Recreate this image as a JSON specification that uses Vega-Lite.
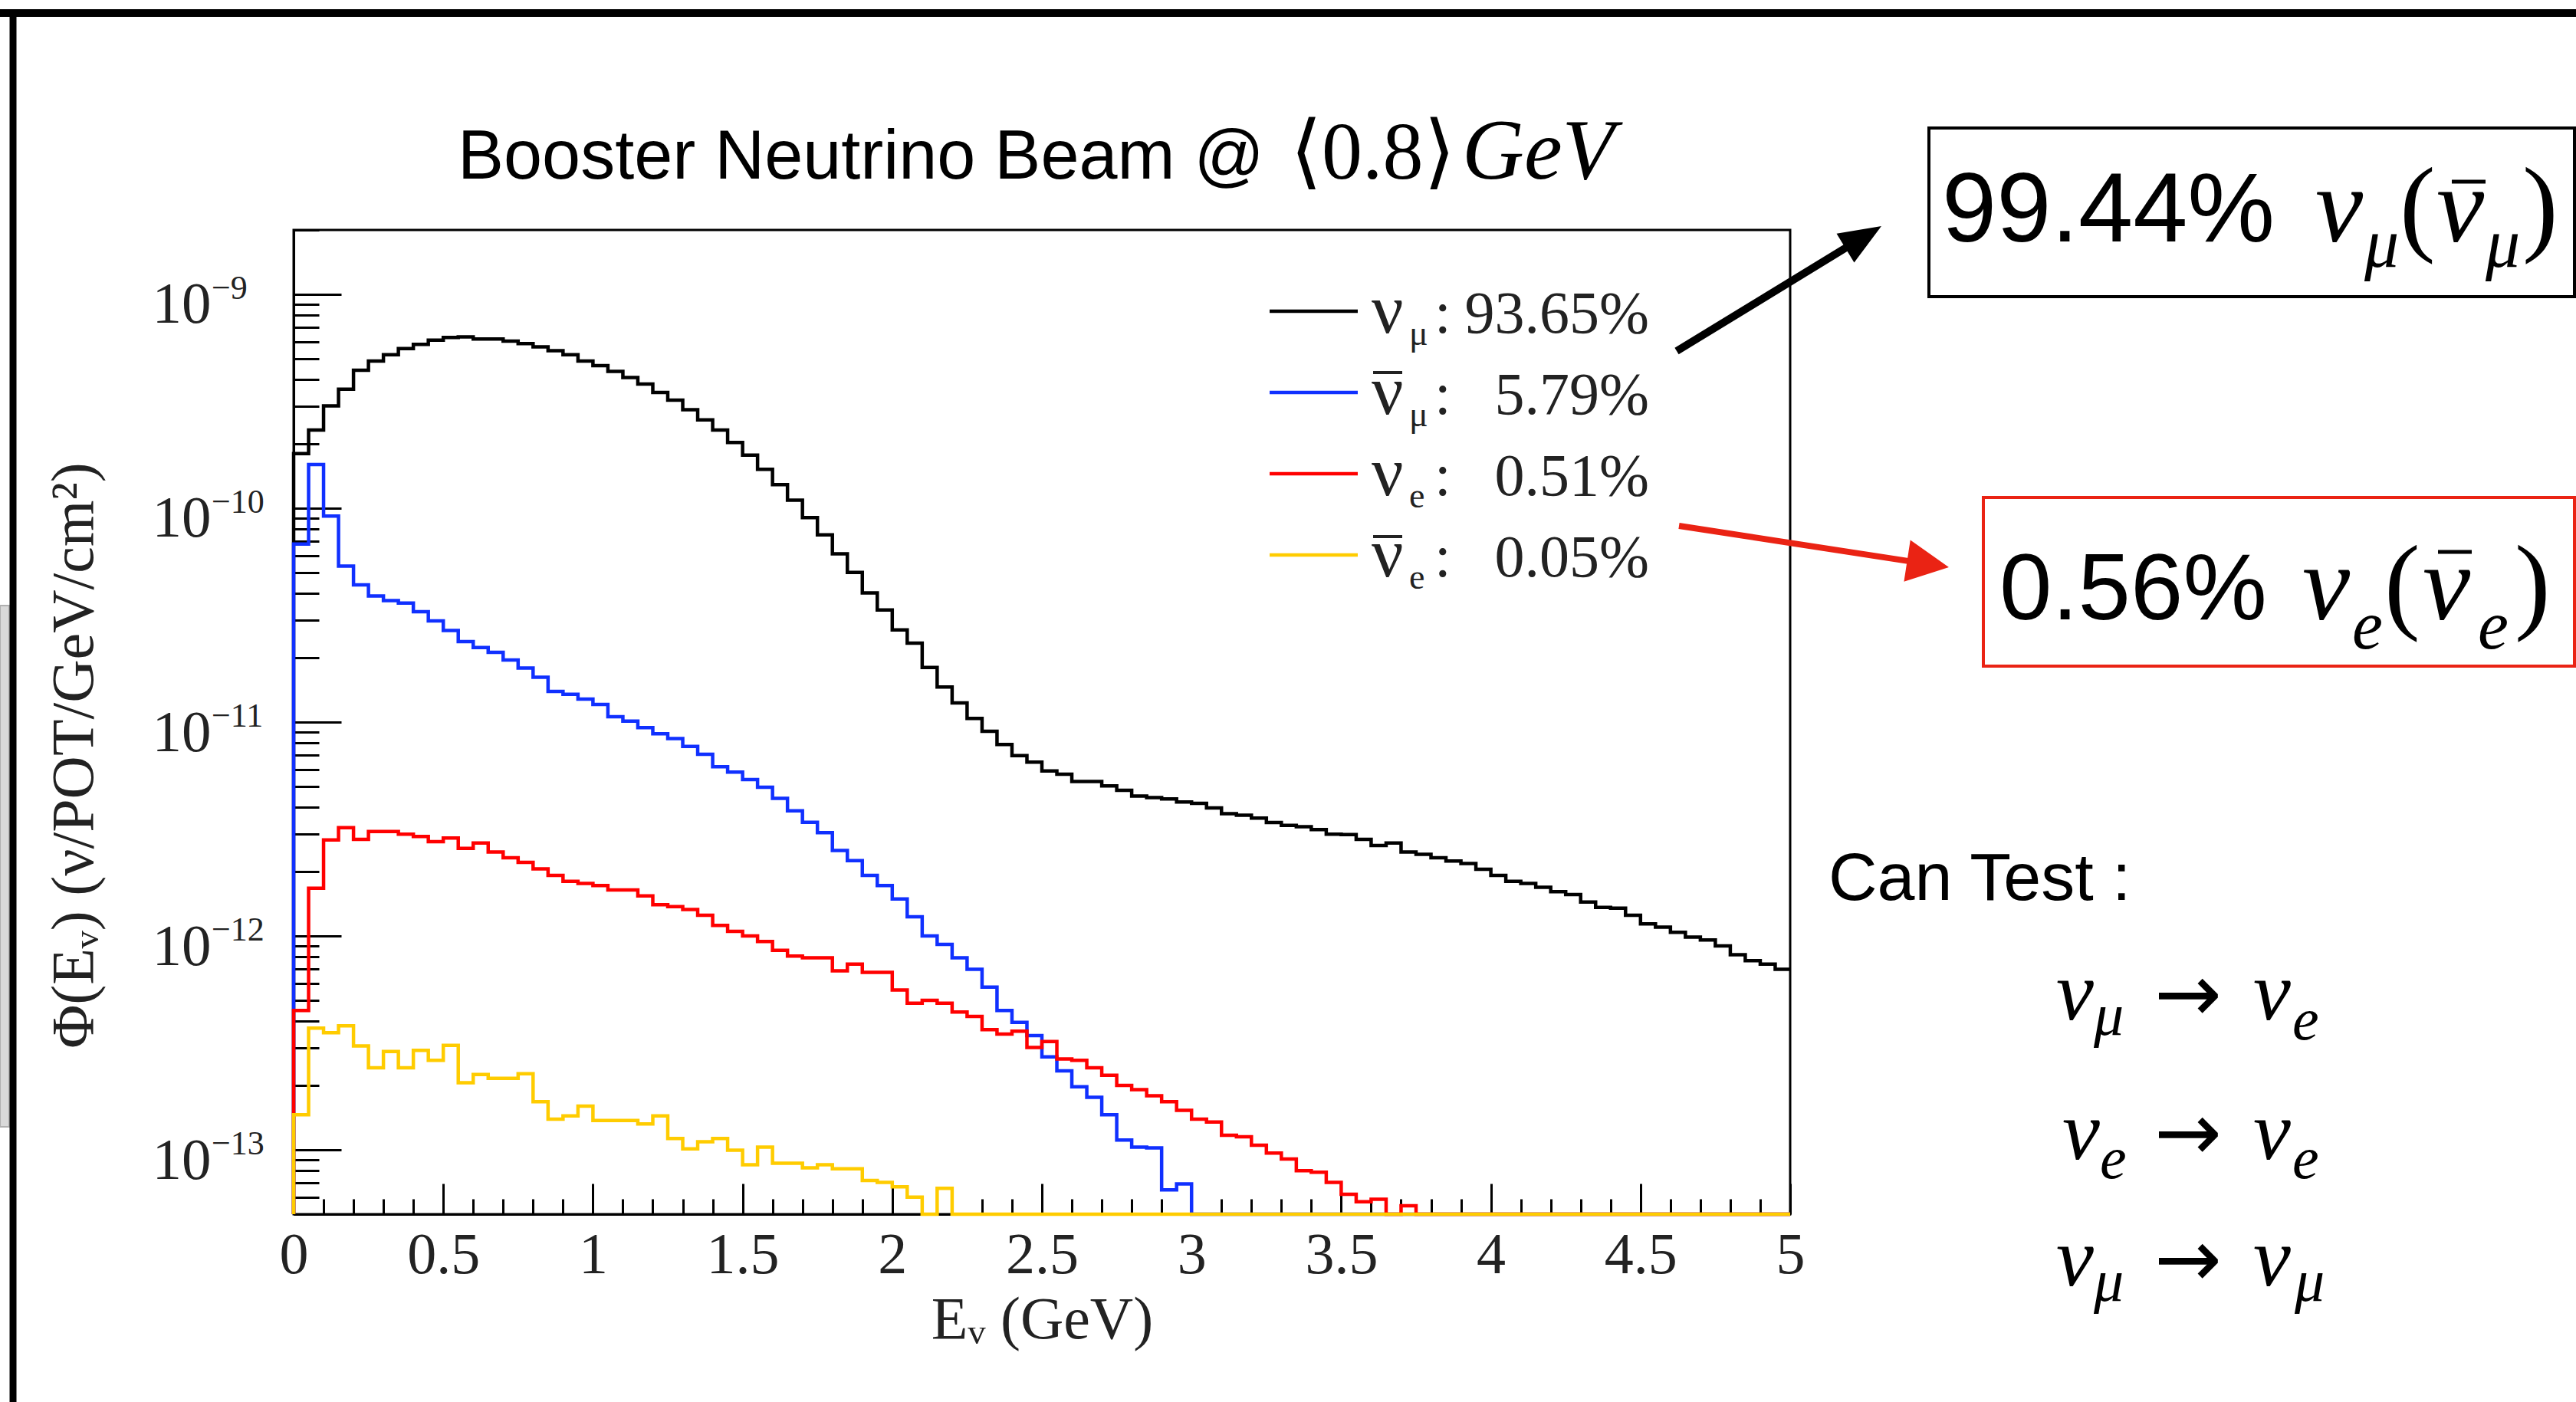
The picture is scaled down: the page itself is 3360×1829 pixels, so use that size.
{
"$schema": "https://vega.github.io/schema/vega-lite/v6.json",
"width": 1952, "height": 1284,
"autosize": {"type": "none"},
"padding": {"left": 383, "top": 300, "right": 1025, "bottom": 245},
"background": "white",
"config": {"view": {"stroke": "#000", "strokeWidth": 3}, "text": {"font": "Liberation Serif", "fill": "#000", "align": "left", "baseline": "alphabetic"}},
"datasets": {
"one": [{"k": 1}],
"bins": [
{"b":-1,"E":0,"numu":5e-14,"anumu":5e-14,"nue":5e-14,"anue":5e-14},
{"b":0,"E":0,"numu":1.8e-10,"anumu":6.8e-11,"nue":4.48e-13,"anue":1.46e-13},
{"b":1,"E":0.05,"numu":2.32e-10,"anumu":1.6e-10,"nue":1.67e-12,"anue":3.71e-13},
{"b":2,"E":0.1,"numu":3.01e-10,"anumu":9.18e-11,"nue":2.81e-12,"anue":3.53e-13},
{"b":3,"E":0.15,"numu":3.6e-10,"anumu":5.36e-11,"nue":3.21e-12,"anue":3.8e-13},
{"b":4,"E":0.2,"numu":4.42e-10,"anumu":4.38e-11,"nue":2.83e-12,"anue":3.06e-13},
{"b":5,"E":0.25,"numu":4.88e-10,"anumu":3.89e-11,"nue":3.08e-12,"anue":2.42e-13},
{"b":6,"E":0.3,"numu":5.22e-10,"anumu":3.7e-11,"nue":3.08e-12,"anue":2.88e-13},
{"b":7,"E":0.35,"numu":5.58e-10,"anumu":3.6e-11,"nue":2.99e-12,"anue":2.42e-13},
{"b":8,"E":0.4,"numu":5.83e-10,"anumu":3.28e-11,"nue":2.92e-12,"anue":2.92e-13},
{"b":9,"E":0.45,"numu":6.11e-10,"anumu":2.97e-11,"nue":2.76e-12,"anue":2.62e-13},
{"b":10,"E":0.5,"numu":6.28e-10,"anumu":2.68e-11,"nue":2.87e-12,"anue":3.08e-13},
{"b":11,"E":0.55,"numu":6.32e-10,"anumu":2.38e-11,"nue":2.57e-12,"anue":2.06e-13},
{"b":12,"E":0.6,"numu":6.18e-10,"anumu":2.23e-11,"nue":2.72e-12,"anue":2.25e-13},
{"b":13,"E":0.65,"numu":6.18e-10,"anumu":2.12e-11,"nue":2.47e-12,"anue":2.16e-13},
{"b":14,"E":0.7,"numu":6.04e-10,"anumu":1.95e-11,"nue":2.32e-12,"anue":2.16e-13},
{"b":15,"E":0.75,"numu":5.88e-10,"anumu":1.79e-11,"nue":2.21e-12,"anue":2.27e-13},
{"b":16,"E":0.8,"numu":5.68e-10,"anumu":1.62e-11,"nue":2.06e-12,"anue":1.68e-13},
{"b":17,"E":0.85,"numu":5.45e-10,"anumu":1.39e-11,"nue":1.92e-12,"anue":1.39e-13},
{"b":18,"E":0.9,"numu":5.22e-10,"anumu":1.35e-11,"nue":1.8e-12,"anue":1.44e-13},
{"b":19,"E":0.95,"numu":4.88e-10,"anumu":1.28e-11,"nue":1.76e-12,"anue":1.6e-13},
{"b":20,"E":1.0,"numu":4.64e-10,"anumu":1.21e-11,"nue":1.72e-12,"anue":1.37e-13},
{"b":21,"E":1.05,"numu":4.36e-10,"anumu":1.06e-11,"nue":1.64e-12,"anue":1.37e-13},
{"b":22,"E":1.1,"numu":4.08e-10,"anumu":1.01e-11,"nue":1.64e-12,"anue":1.37e-13},
{"b":23,"E":1.15,"numu":3.81e-10,"anumu":9.42e-12,"nue":1.54e-12,"anue":1.32e-13},
{"b":24,"E":1.2,"numu":3.48e-10,"anumu":8.81e-12,"nue":1.4e-12,"anue":1.44e-13},
{"b":25,"E":1.25,"numu":3.2e-10,"anumu":8.38e-12,"nue":1.37e-12,"anue":1.13e-13},
{"b":26,"E":1.3,"numu":2.89e-10,"anumu":7.69e-12,"nue":1.33e-12,"anue":1.01e-13},
{"b":27,"E":1.35,"numu":2.59e-10,"anumu":7.07e-12,"nue":1.25e-12,"anue":1.09e-13},
{"b":28,"E":1.4,"numu":2.32e-10,"anumu":6.18e-12,"nue":1.12e-12,"anue":1.13e-13},
{"b":29,"E":1.45,"numu":2.03e-10,"anumu":5.84e-12,"nue":1.05e-12,"anue":9.97e-14},
{"b":30,"E":1.5,"numu":1.77e-10,"anumu":5.38e-12,"nue":1.0e-12,"anue":8.51e-14},
{"b":31,"E":1.55,"numu":1.52e-10,"anumu":4.96e-12,"nue":9.42e-13,"anue":1.03e-13},
{"b":32,"E":1.6,"numu":1.29e-10,"anumu":4.4e-12,"nue":8.57e-13,"anue":8.65e-14},
{"b":33,"E":1.65,"numu":1.09e-10,"anumu":3.85e-12,"nue":8.05e-13,"anue":8.65e-14},
{"b":34,"E":1.7,"numu":9.03e-11,"anumu":3.4e-12,"nue":7.91e-13,"anue":8.24e-14},
{"b":35,"E":1.75,"numu":7.51e-11,"anumu":3.04e-12,"nue":7.91e-13,"anue":8.51e-14},
{"b":36,"E":1.8,"numu":6.12e-11,"anumu":2.51e-12,"nue":6.87e-13,"anue":8.16e-14},
{"b":37,"E":1.85,"numu":5.01e-11,"anumu":2.25e-12,"nue":7.38e-13,"anue":8.16e-14},
{"b":38,"E":1.9,"numu":4.02e-11,"anumu":1.92e-12,"nue":6.76e-13,"anue":7.19e-14},
{"b":39,"E":1.95,"numu":3.34e-11,"anumu":1.72e-12,"nue":6.76e-13,"anue":7.04e-14},
{"b":40,"E":2.0,"numu":2.7e-11,"anumu":1.49e-12,"nue":5.59e-13,"anue":6.71e-14},
{"b":41,"E":2.05,"numu":2.34e-11,"anumu":1.23e-12,"nue":4.85e-13,"anue":6.01e-14},
{"b":42,"E":2.1,"numu":1.8e-11,"anumu":1.0e-12,"nue":5.0e-13,"anue":5e-14},
{"b":43,"E":2.15,"numu":1.46e-11,"anumu":9.13e-13,"nue":4.85e-13,"anue":6.6e-14},
{"b":44,"E":2.2,"numu":1.23e-11,"anumu":7.91e-13,"nue":4.41e-13,"anue":5e-14},
{"b":45,"E":2.25,"numu":1.04e-11,"anumu":6.98e-13,"nue":4.2e-13,"anue":5e-14},
{"b":46,"E":2.3,"numu":9.06e-12,"anumu":5.77e-13,"nue":3.65e-13,"anue":5e-14},
{"b":47,"E":2.35,"numu":7.86e-12,"anumu":4.48e-13,"nue":3.48e-13,"anue":5e-14},
{"b":48,"E":2.4,"numu":6.97e-12,"anumu":3.94e-13,"nue":3.59e-13,"anue":5e-14},
{"b":49,"E":2.45,"numu":6.5e-12,"anumu":3.42e-13,"nue":3.01e-13,"anue":5e-14},
{"b":50,"E":2.5,"numu":5.91e-12,"anumu":2.72e-13,"nue":3.21e-13,"anue":5e-14},
{"b":51,"E":2.55,"numu":5.71e-12,"anumu":2.34e-13,"nue":2.66e-13,"anue":5e-14},
{"b":52,"E":2.6,"numu":5.28e-12,"anumu":1.97e-13,"nue":2.62e-13,"anue":5e-14},
{"b":53,"E":2.65,"numu":5.28e-12,"anumu":1.76e-13,"nue":2.42e-13,"anue":5e-14},
{"b":54,"E":2.7,"numu":5.03e-12,"anumu":1.46e-13,"nue":2.23e-13,"anue":5e-14},
{"b":55,"E":2.75,"numu":4.8e-12,"anumu":1.11e-13,"nue":2.0e-13,"anue":5e-14},
{"b":56,"E":2.8,"numu":4.51e-12,"anumu":1.03e-13,"nue":1.91e-13,"anue":5e-14},
{"b":57,"E":2.85,"numu":4.44e-12,"anumu":1.02e-13,"nue":1.79e-13,"anue":5e-14},
{"b":58,"E":2.9,"numu":4.37e-12,"anumu":6.5e-14,"nue":1.68e-13,"anue":5e-14},
{"b":59,"E":2.95,"numu":4.23e-12,"anumu":6.92e-14,"nue":1.53e-13,"anue":5e-14},
{"b":60,"E":3.0,"numu":4.17e-12,"anumu":5e-14,"nue":1.39e-13,"anue":5e-14},
{"b":61,"E":3.05,"numu":3.97e-12,"anumu":5e-14,"nue":1.35e-13,"anue":5e-14},
{"b":62,"E":3.1,"numu":3.73e-12,"anumu":5e-14,"nue":1.17e-13,"anue":5e-14},
{"b":63,"E":3.15,"numu":3.67e-12,"anumu":5e-14,"nue":1.15e-13,"anue":5e-14},
{"b":64,"E":3.2,"numu":3.56e-12,"anumu":5e-14,"nue":1.05e-13,"anue":5e-14},
{"b":65,"E":3.25,"numu":3.39e-12,"anumu":5e-14,"nue":9.66e-14,"anue":5e-14},
{"b":66,"E":3.3,"numu":3.29e-12,"anumu":5e-14,"nue":9.06e-14,"anue":5e-14},
{"b":67,"E":3.35,"numu":3.24e-12,"anumu":5e-14,"nue":7.98e-14,"anue":5e-14},
{"b":68,"E":3.4,"numu":3.14e-12,"anumu":5e-14,"nue":7.86e-14,"anue":5e-14},
{"b":69,"E":3.45,"numu":2.99e-12,"anumu":5e-14,"nue":7.04e-14,"anue":5e-14},
{"b":70,"E":3.5,"numu":2.98e-12,"anumu":5e-14,"nue":6.2e-14,"anue":5e-14},
{"b":71,"E":3.55,"numu":2.83e-12,"anumu":5e-14,"nue":5.72e-14,"anue":5e-14},
{"b":72,"E":3.6,"numu":2.65e-12,"anumu":5e-14,"nue":5.87e-14,"anue":5e-14},
{"b":73,"E":3.65,"numu":2.72e-12,"anumu":5e-14,"nue":5e-14,"anue":5e-14},
{"b":74,"E":3.7,"numu":2.47e-12,"anumu":5e-14,"nue":5.47e-14,"anue":5e-14},
{"b":75,"E":3.75,"numu":2.41e-12,"anumu":5e-14,"nue":5e-14,"anue":5e-14},
{"b":76,"E":3.8,"numu":2.32e-12,"anumu":5e-14,"nue":5e-14,"anue":5e-14},
{"b":77,"E":3.85,"numu":2.24e-12,"anumu":5e-14,"nue":5e-14,"anue":5e-14},
{"b":78,"E":3.9,"numu":2.18e-12,"anumu":5e-14,"nue":5e-14,"anue":5e-14},
{"b":79,"E":3.95,"numu":2.05e-12,"anumu":5e-14,"nue":5e-14,"anue":5e-14},
{"b":80,"E":4.0,"numu":1.92e-12,"anumu":5e-14,"nue":5e-14,"anue":5e-14},
{"b":81,"E":4.05,"numu":1.8e-12,"anumu":5e-14,"nue":5e-14,"anue":5e-14},
{"b":82,"E":4.1,"numu":1.76e-12,"anumu":5e-14,"nue":5e-14,"anue":5e-14},
{"b":83,"E":4.15,"numu":1.69e-12,"anumu":5e-14,"nue":5e-14,"anue":5e-14},
{"b":84,"E":4.2,"numu":1.61e-12,"anumu":5e-14,"nue":5e-14,"anue":5e-14},
{"b":85,"E":4.25,"numu":1.56e-12,"anumu":5e-14,"nue":5e-14,"anue":5e-14},
{"b":86,"E":4.3,"numu":1.44e-12,"anumu":5e-14,"nue":5e-14,"anue":5e-14},
{"b":87,"E":4.35,"numu":1.36e-12,"anumu":5e-14,"nue":5e-14,"anue":5e-14},
{"b":88,"E":4.4,"numu":1.35e-12,"anumu":5e-14,"nue":5e-14,"anue":5e-14},
{"b":89,"E":4.45,"numu":1.25e-12,"anumu":5e-14,"nue":5e-14,"anue":5e-14},
{"b":90,"E":4.5,"numu":1.14e-12,"anumu":5e-14,"nue":5e-14,"anue":5e-14},
{"b":91,"E":4.55,"numu":1.1e-12,"anumu":5e-14,"nue":5e-14,"anue":5e-14},
{"b":92,"E":4.6,"numu":1.04e-12,"anumu":5e-14,"nue":5e-14,"anue":5e-14},
{"b":93,"E":4.65,"numu":9.88e-13,"anumu":5e-14,"nue":5e-14,"anue":5e-14},
{"b":94,"E":4.7,"numu":9.57e-13,"anumu":5e-14,"nue":5e-14,"anue":5e-14},
{"b":95,"E":4.75,"numu":8.99e-13,"anumu":5e-14,"nue":5e-14,"anue":5e-14},
{"b":96,"E":4.8,"numu":8.17e-13,"anumu":5e-14,"nue":5e-14,"anue":5e-14},
{"b":97,"E":4.85,"numu":7.67e-13,"anumu":5e-14,"nue":5e-14,"anue":5e-14},
{"b":98,"E":4.9,"numu":7.38e-13,"anumu":5e-14,"nue":5e-14,"anue":5e-14},
{"b":99,"E":4.95,"numu":6.98e-13,"anumu":5e-14,"nue":5e-14,"anue":5e-14},
{"b":100,"E":5.0,"numu":6.98e-13,"anumu":5e-14,"nue":5e-14,"anue":5e-14}
]},
"layer": [
{"data": {"name": "one"}, "mark": {"type": "rect", "fill": "#d9d9d9", "stroke": "#b0b0b0", "strokeWidth": 2},
 "encoding": {"x": {"datum": -0.981, "type": "quantitative"}, "x2": {"datum": -0.9503}, "y": {"datum": 3.505e-11, "type": "quantitative"}, "y2": {"datum": 1.2805e-13}}},
{"data": {"name": "bins"},
 "transform": [{"fold": ["numu", "anumu", "nue", "anue"], "as": ["s", "flux"]}],
 "mark": {"type": "line", "interpolate": "step-after", "strokeWidth": 4.5},
 "encoding": {
  "x": {"field": "E", "type": "quantitative", "scale": {"domain": [0, 5], "nice": false, "zero": false},
   "axis": {"title": "Eᵥ (GeV)", "titleFont": "Liberation Serif", "titleFontSize": 78, "titleFontWeight": "normal", "titleColor": "#222", "titlePadding": -12,
    "tickCount": 200,
    "values": [0,0.1,0.2,0.3,0.4,0.5,0.6,0.7,0.8,0.9,1,1.1,1.2,1.3,1.4,1.5,1.6,1.7,1.8,1.9,2,2.1,2.2,2.3,2.4,2.5,2.6,2.7,2.8,2.9,3,3.1,3.2,3.3,3.4,3.5,3.6,3.7,3.8,3.9,4,4.1,4.2,4.3,4.4,4.5,4.6,4.7,4.8,4.9,5],
    "labelExpr": "abs(datum.value*2 - round(datum.value*2)) < 0.001 ? (abs(datum.value - round(datum.value)) < 0.001 ? format(datum.value, 'd') : format(datum.value, '.1f')) : ''",
    "labelFont": "Liberation Serif", "labelFontSize": 76, "labelColor": "#222", "labelPadding": 56, "labelFlush": false, "labelOverlap": false, "labelBound": false,
    "tickSize": {"condition": {"test": "abs(datum.value*2 - round(datum.value*2)) < 0.001", "value": -40}, "value": -20},
    "tickWidth": 3, "tickColor": "#000", "domainColor": "#000", "domainWidth": 3, "grid": false}},
  "y": {"field": "flux", "type": "quantitative", "scale": {"type": "log", "domain": [5e-14, 2e-9], "nice": false},
   "axis": {"title": "Φ(Eᵥ) (ν/POT/GeV/cm²)", "titleFont": "Liberation Serif", "titleFontSize": 78, "titleFontWeight": "normal", "titleColor": "#222", "titlePadding": 62, "titleY": 685,
    "tickCount": 200,
    "values": [5e-14,6e-14,7e-14,8e-14,9e-14,1e-13,2e-13,3e-13,4e-13,5e-13,6e-13,7e-13,8e-13,9e-13,1e-12,2e-12,3e-12,4e-12,5e-12,6e-12,7e-12,8e-12,9e-12,1e-11,2e-11,3e-11,4e-11,5e-11,6e-11,7e-11,8e-11,9e-11,1e-10,2e-10,3e-10,4e-10,5e-10,6e-10,7e-10,8e-10,9e-10,1e-9,2e-9],
    "labelExpr": "abs(log(datum.value)/LN10 - round(log(datum.value)/LN10)) < 0.001 ? '10' : ''",
    "labelFont": "Liberation Serif", "labelFontSize": 77, "labelColor": "#222", "labelPadding": 170, "labelAlign": "right", "labelBaseline": "alphabetic", "labelFlush": false, "labelOverlap": false, "labelBound": false, "labelOffset": 37,
    "tickSize": {"condition": {"test": "abs(log(datum.value)/LN10 - round(log(datum.value)/LN10)) < 0.001", "value": -62}, "value": -33},
    "tickWidth": 3, "tickColor": "#000", "domainColor": "#000", "domainWidth": 3, "grid": false}},
  "color": {"field": "s", "type": "nominal", "scale": {"domain": ["numu", "anumu", "nue", "anue"], "range": ["#000000", "#1030ff", "#ff0000", "#ffcc00"]}, "legend": null},
  "order": {"field": "b", "type": "quantitative"}
 }},
{"data": {"name": "one"}, "mark": {"type": "text", "text": "−9", "fontSize": 44, "fill": "#222"}, "encoding": {"x": {"datum": -0.2741, "type": "quantitative"}, "y": {"datum": 9.517e-10, "type": "quantitative"}}},
{"data": {"name": "one"}, "mark": {"type": "text", "text": "−10", "fontSize": 44, "fill": "#222"}, "encoding": {"x": {"datum": -0.2741, "type": "quantitative"}, "y": {"datum": 9.517e-11, "type": "quantitative"}}},
{"data": {"name": "one"}, "mark": {"type": "text", "text": "−11", "fontSize": 44, "fill": "#222"}, "encoding": {"x": {"datum": -0.2741, "type": "quantitative"}, "y": {"datum": 9.517e-12, "type": "quantitative"}}},
{"data": {"name": "one"}, "mark": {"type": "text", "text": "−12", "fontSize": 44, "fill": "#222"}, "encoding": {"x": {"datum": -0.2741, "type": "quantitative"}, "y": {"datum": 9.517e-13, "type": "quantitative"}}},
{"data": {"name": "one"}, "mark": {"type": "text", "text": "−13", "fontSize": 44, "fill": "#222"}, "encoding": {"x": {"datum": -0.2741, "type": "quantitative"}, "y": {"datum": 9.517e-14, "type": "quantitative"}}},
{"data": {"name": "one"}, "mark": {"type": "rule", "stroke": "#000000", "strokeWidth": 4.5}, "encoding": {"x": {"datum": 3.2608, "type": "quantitative"}, "x2": {"datum": 3.5553}, "y": {"datum": 8.34e-10, "type": "quantitative"}}},
{"data": {"name": "one"}, "mark": {"type": "rule", "stroke": "#1030ff", "strokeWidth": 4.5}, "encoding": {"x": {"datum": 3.2608, "type": "quantitative"}, "x2": {"datum": 3.5553}, "y": {"datum": 3.477e-10, "type": "quantitative"}}},
{"data": {"name": "one"}, "mark": {"type": "rule", "stroke": "#ff0000", "strokeWidth": 4.5}, "encoding": {"x": {"datum": 3.2608, "type": "quantitative"}, "x2": {"datum": 3.5553}, "y": {"datum": 1.4495e-10, "type": "quantitative"}}},
{"data": {"name": "one"}, "mark": {"type": "rule", "stroke": "#ffcc00", "strokeWidth": 4.5}, "encoding": {"x": {"datum": 3.2608, "type": "quantitative"}, "x2": {"datum": 3.5553}, "y": {"datum": 6.044e-11, "type": "quantitative"}}},
{"data": {"name": "one"}, "mark": {"type": "rule", "stroke": "#222", "strokeWidth": 4}, "encoding": {"x": {"datum": 3.6066, "type": "quantitative"}, "x2": {"datum": 3.7039}, "y": {"datum": 4.31e-10, "type": "quantitative"}}},
{"data": {"name": "one"}, "mark": {"type": "rule", "stroke": "#222", "strokeWidth": 4}, "encoding": {"x": {"datum": 3.6066, "type": "quantitative"}, "x2": {"datum": 3.7039}, "y": {"datum": 7.367e-11, "type": "quantitative"}}},
{"data": {"name": "one"}, "mark": {"type": "text", "text": "ν", "fontSize": 92, "fill": "#222"}, "encoding": {"x": {"datum": 3.6014, "type": "quantitative"}, "y": {"datum": 6.616e-10, "type": "quantitative"}}},
{"data": {"name": "one"}, "mark": {"type": "text", "text": "ν", "fontSize": 92, "fill": "#222"}, "encoding": {"x": {"datum": 3.6014, "type": "quantitative"}, "y": {"datum": 2.76e-10, "type": "quantitative"}}},
{"data": {"name": "one"}, "mark": {"type": "text", "text": "ν", "fontSize": 92, "fill": "#222"}, "encoding": {"x": {"datum": 3.6014, "type": "quantitative"}, "y": {"datum": 1.1503e-10, "type": "quantitative"}}},
{"data": {"name": "one"}, "mark": {"type": "text", "text": "ν", "fontSize": 92, "fill": "#222"}, "encoding": {"x": {"datum": 3.6014, "type": "quantitative"}, "y": {"datum": 4.797e-11, "type": "quantitative"}}},
{"data": {"name": "one"}, "mark": {"type": "text", "text": "μ", "fontSize": 46, "fill": "#222"}, "encoding": {"x": {"datum": 3.727, "type": "quantitative"}, "y": {"datum": 5.8e-10, "type": "quantitative"}}},
{"data": {"name": "one"}, "mark": {"type": "text", "text": "μ", "fontSize": 46, "fill": "#222"}, "encoding": {"x": {"datum": 3.727, "type": "quantitative"}, "y": {"datum": 2.417e-10, "type": "quantitative"}}},
{"data": {"name": "one"}, "mark": {"type": "text", "text": "e", "fontSize": 46, "fill": "#222"}, "encoding": {"x": {"datum": 3.727, "type": "quantitative"}, "y": {"datum": 1.0082e-10, "type": "quantitative"}}},
{"data": {"name": "one"}, "mark": {"type": "text", "text": "e", "fontSize": 46, "fill": "#222"}, "encoding": {"x": {"datum": 3.727, "type": "quantitative"}, "y": {"datum": 4.203e-11, "type": "quantitative"}}},
{"data": {"name": "one"}, "mark": {"type": "text", "text": ":", "fontSize": 78, "fill": "#222"}, "encoding": {"x": {"datum": 3.8115, "type": "quantitative"}, "y": {"datum": 6.616e-10, "type": "quantitative"}}},
{"data": {"name": "one"}, "mark": {"type": "text", "text": ":", "fontSize": 78, "fill": "#222"}, "encoding": {"x": {"datum": 3.8115, "type": "quantitative"}, "y": {"datum": 2.76e-10, "type": "quantitative"}}},
{"data": {"name": "one"}, "mark": {"type": "text", "text": ":", "fontSize": 78, "fill": "#222"}, "encoding": {"x": {"datum": 3.8115, "type": "quantitative"}, "y": {"datum": 1.1503e-10, "type": "quantitative"}}},
{"data": {"name": "one"}, "mark": {"type": "text", "text": ":", "fontSize": 78, "fill": "#222"}, "encoding": {"x": {"datum": 3.8115, "type": "quantitative"}, "y": {"datum": 4.797e-11, "type": "quantitative"}}},
{"data": {"name": "one"}, "mark": {"type": "text", "text": "93.65%", "fontSize": 78, "fill": "#222", "align": "right"}, "encoding": {"x": {"datum": 4.5287, "type": "quantitative"}, "y": {"datum": 6.616e-10, "type": "quantitative"}}},
{"data": {"name": "one"}, "mark": {"type": "text", "text": "5.79%", "fontSize": 78, "fill": "#222", "align": "right"}, "encoding": {"x": {"datum": 4.5287, "type": "quantitative"}, "y": {"datum": 2.76e-10, "type": "quantitative"}}},
{"data": {"name": "one"}, "mark": {"type": "text", "text": "0.51%", "fontSize": 78, "fill": "#222", "align": "right"}, "encoding": {"x": {"datum": 4.5287, "type": "quantitative"}, "y": {"datum": 1.1503e-10, "type": "quantitative"}}},
{"data": {"name": "one"}, "mark": {"type": "text", "text": "0.05%", "fontSize": 78, "fill": "#222", "align": "right"}, "encoding": {"x": {"datum": 4.5287, "type": "quantitative"}, "y": {"datum": 4.797e-11, "type": "quantitative"}}},
{"data": {"name": "one"}, "mark": {"type": "text", "text": "Booster Neutrino Beam @", "font": "Liberation Sans", "fontSize": 90}, "encoding": {"x": {"datum": 0.5482, "type": "quantitative"}, "y": {"datum": 3.476e-9, "type": "quantitative"}}},
{"data": {"name": "one"}, "mark": {"type": "text", "text": "⟨0.8⟩", "fontSize": 106}, "encoding": {"x": {"datum": 3.33, "type": "quantitative"}, "y": {"datum": 3.476e-9, "type": "quantitative"}}},
{"data": {"name": "one"}, "mark": {"type": "text", "text": "GeV", "fontSize": 112, "fontStyle": "italic"}, "encoding": {"x": {"datum": 3.9037, "type": "quantitative"}, "y": {"datum": 3.476e-9, "type": "quantitative"}}},
{"data": {"name": "one"}, "mark": {"type": "rule", "stroke": "#000", "strokeWidth": 10}, "encoding": {"x": {"datum": -0.982, "type": "quantitative"}, "x2": {"datum": 7.63}, "y": {"datum": 2.067e-8, "type": "quantitative"}}},
{"data": {"name": "one"}, "mark": {"type": "rule", "stroke": "#000", "strokeWidth": 9}, "encoding": {"x": {"datum": -0.9375, "type": "quantitative"}, "y": {"datum": 2.154e-8, "type": "quantitative"}, "y2": {"datum": 6.62e-15}}},
{"data": {"name": "one"}, "mark": {"type": "rect", "fillOpacity": 0, "stroke": "#000", "strokeWidth": 4}, "encoding": {"x": {"datum": 5.4636, "type": "quantitative"}, "x2": {"datum": 7.6204}, "y": {"datum": 5.995e-9, "type": "quantitative"}, "y2": {"datum": 9.754e-10}}},
{"data": {"name": "one"}, "mark": {"type": "text", "text": "99.44%", "font": "Liberation Sans", "fontSize": 128}, "encoding": {"x": {"datum": 5.5072, "type": "quantitative"}, "y": {"datum": 1.767e-9, "type": "quantitative"}}},
{"data": {"name": "one"}, "mark": {"type": "text", "text": "ν", "fontSize": 140, "fontStyle": "italic"}, "encoding": {"x": {"datum": 6.7546, "type": "quantitative"}, "y": {"datum": 1.767e-9, "type": "quantitative"}}},
{"data": {"name": "one"}, "mark": {"type": "text", "text": "μ", "fontSize": 90, "fontStyle": "italic"}, "encoding": {"x": {"datum": 6.9186, "type": "quantitative"}, "y": {"datum": 1.346e-9, "type": "quantitative"}}},
{"data": {"name": "one"}, "mark": {"type": "text", "text": "(", "fontSize": 140}, "encoding": {"x": {"datum": 7.0364, "type": "quantitative"}, "y": {"datum": 1.767e-9, "type": "quantitative"}}},
{"data": {"name": "one"}, "mark": {"type": "text", "text": "ν", "fontSize": 140, "fontStyle": "italic"}, "encoding": {"x": {"datum": 7.1593, "type": "quantitative"}, "y": {"datum": 1.767e-9, "type": "quantitative"}}},
{"data": {"name": "one"}, "mark": {"type": "rule", "stroke": "#000", "strokeWidth": 5}, "encoding": {"x": {"datum": 7.2106, "type": "quantitative"}, "x2": {"datum": 7.3233}, "y": {"datum": 3.363e-9, "type": "quantitative"}}},
{"data": {"name": "one"}, "mark": {"type": "text", "text": "μ", "fontSize": 90, "fontStyle": "italic"}, "encoding": {"x": {"datum": 7.3233, "type": "quantitative"}, "y": {"datum": 1.346e-9, "type": "quantitative"}}},
{"data": {"name": "one"}, "mark": {"type": "text", "text": ")", "fontSize": 140}, "encoding": {"x": {"datum": 7.4462, "type": "quantitative"}, "y": {"datum": 1.767e-9, "type": "quantitative"}}},
{"data": {"name": "one"}, "mark": {"type": "rect", "fillOpacity": 0, "stroke": "#ea2314", "strokeWidth": 4}, "encoding": {"x": {"datum": 5.6455, "type": "quantitative"}, "x2": {"datum": 7.6204}, "y": {"datum": 1.1222e-10, "type": "quantitative"}, "y2": {"datum": 1.827e-11}}},
{"data": {"name": "one"}, "mark": {"type": "text", "text": "0.56%", "font": "Liberation Sans", "fontSize": 123}, "encoding": {"x": {"datum": 5.6993, "type": "quantitative"}, "y": {"datum": 3.021e-11, "type": "quantitative"}}},
{"data": {"name": "one"}, "mark": {"type": "text", "text": "ν", "fontSize": 140, "fontStyle": "italic"}, "encoding": {"x": {"datum": 6.7111, "type": "quantitative"}, "y": {"datum": 3.021e-11, "type": "quantitative"}}},
{"data": {"name": "one"}, "mark": {"type": "text", "text": "e", "fontSize": 90, "fontStyle": "italic"}, "encoding": {"x": {"datum": 6.8776, "type": "quantitative"}, "y": {"datum": 2.208e-11, "type": "quantitative"}}},
{"data": {"name": "one"}, "mark": {"type": "text", "text": "(", "fontSize": 140}, "encoding": {"x": {"datum": 6.9851, "type": "quantitative"}, "y": {"datum": 3.021e-11, "type": "quantitative"}}},
{"data": {"name": "one"}, "mark": {"type": "text", "text": "ν", "fontSize": 140, "fontStyle": "italic"}, "encoding": {"x": {"datum": 7.1132, "type": "quantitative"}, "y": {"datum": 3.021e-11, "type": "quantitative"}}},
{"data": {"name": "one"}, "mark": {"type": "rule", "stroke": "#000", "strokeWidth": 5}, "encoding": {"x": {"datum": 7.1645, "type": "quantitative"}, "x2": {"datum": 7.2772}, "y": {"datum": 6.247e-11, "type": "quantitative"}}},
{"data": {"name": "one"}, "mark": {"type": "text", "text": "e", "fontSize": 90, "fontStyle": "italic"}, "encoding": {"x": {"datum": 7.2976, "type": "quantitative"}, "y": {"datum": 2.208e-11, "type": "quantitative"}}},
{"data": {"name": "one"}, "mark": {"type": "text", "text": ")", "fontSize": 140}, "encoding": {"x": {"datum": 7.4206, "type": "quantitative"}, "y": {"datum": 3.021e-11, "type": "quantitative"}}},
{"data": {"name": "one"}, "mark": {"type": "rule", "stroke": "#000", "strokeWidth": 10}, "encoding": {"x": {"datum": 4.6209, "type": "quantitative"}, "x2": {"datum": 5.2446}, "y": {"datum": 5.428e-10, "type": "quantitative"}, "y2": {"datum": 1.852e-9}}},
{"data": {"name": "one"}, "mark": {"type": "point", "shape": "M0,-1L0.8,1L-0.8,1Z", "size": 3025, "angle": 58.6, "filled": true, "fill": "#000", "opacity": 1, "strokeWidth": 0}, "encoding": {"x": {"datum": 5.2446, "type": "quantitative"}, "y": {"datum": 1.852e-9, "type": "quantitative"}}},
{"data": {"name": "one"}, "mark": {"type": "rule", "stroke": "#ea2314", "strokeWidth": 8}, "encoding": {"x": {"datum": 4.6286, "type": "quantitative"}, "x2": {"datum": 5.4605}, "y": {"datum": 8.274e-11, "type": "quantitative"}, "y2": {"datum": 5.482e-11}}},
{"data": {"name": "one"}, "mark": {"type": "point", "shape": "M0,-1L1,1L-1,1Z", "size": 3025, "angle": 98.7, "filled": true, "fill": "#ea2314", "opacity": 1, "strokeWidth": 0}, "encoding": {"x": {"datum": 5.4605, "type": "quantitative"}, "y": {"datum": 5.482e-11, "type": "quantitative"}}},
{"data": {"name": "one"}, "mark": {"type": "text", "text": "Can Test :", "font": "Liberation Sans", "fontSize": 88}, "encoding": {"x": {"datum": 5.128, "type": "quantitative"}, "y": {"datum": 1.474e-12, "type": "quantitative"}}},
{"data": {"name": "one"}, "mark": {"type": "text", "text": "ν", "fontSize": 110, "fontStyle": "italic"}, "encoding": {"x": {"datum": 5.8888, "type": "quantitative"}, "y": {"datum": 4.067e-13, "type": "quantitative"}}},
{"data": {"name": "one"}, "mark": {"type": "text", "text": "μ", "fontSize": 78, "fontStyle": "italic"}, "encoding": {"x": {"datum": 6.0143, "type": "quantitative"}, "y": {"datum": 3.448e-13, "type": "quantitative"}}},
{"data": {"name": "one"}, "mark": {"type": "text", "text": "→", "font": "DejaVu Sans", "fontSize": 105, "align": "center", "baseline": "middle"}, "encoding": {"x": {"datum": 6.3294, "type": "quantitative"}, "y": {"datum": 5.209e-13, "type": "quantitative"}}},
{"data": {"name": "one"}, "mark": {"type": "text", "text": "ν", "fontSize": 110, "fontStyle": "italic"}, "encoding": {"x": {"datum": 6.5471, "type": "quantitative"}, "y": {"datum": 4.067e-13, "type": "quantitative"}}},
{"data": {"name": "one"}, "mark": {"type": "text", "text": "e", "fontSize": 78, "fontStyle": "italic"}, "encoding": {"x": {"datum": 6.6778, "type": "quantitative"}, "y": {"datum": 3.281e-13, "type": "quantitative"}}},
{"data": {"name": "one"}, "mark": {"type": "text", "text": "ν", "fontSize": 110, "fontStyle": "italic"}, "encoding": {"x": {"datum": 5.9093, "type": "quantitative"}, "y": {"datum": 9.056e-14, "type": "quantitative"}}},
{"data": {"name": "one"}, "mark": {"type": "text", "text": "e", "fontSize": 78, "fontStyle": "italic"}, "encoding": {"x": {"datum": 6.0348, "type": "quantitative"}, "y": {"datum": 7.368e-14, "type": "quantitative"}}},
{"data": {"name": "one"}, "mark": {"type": "text", "text": "→", "font": "DejaVu Sans", "fontSize": 105, "align": "center", "baseline": "middle"}, "encoding": {"x": {"datum": 6.3294, "type": "quantitative"}, "y": {"datum": 1.1692e-13, "type": "quantitative"}}},
{"data": {"name": "one"}, "mark": {"type": "text", "text": "ν", "fontSize": 110, "fontStyle": "italic"}, "encoding": {"x": {"datum": 6.5471, "type": "quantitative"}, "y": {"datum": 9.056e-14, "type": "quantitative"}}},
{"data": {"name": "one"}, "mark": {"type": "text", "text": "e", "fontSize": 78, "fontStyle": "italic"}, "encoding": {"x": {"datum": 6.6778, "type": "quantitative"}, "y": {"datum": 7.368e-14, "type": "quantitative"}}},
{"data": {"name": "one"}, "mark": {"type": "text", "text": "ν", "fontSize": 110, "fontStyle": "italic"}, "encoding": {"x": {"datum": 5.8888, "type": "quantitative"}, "y": {"datum": 2.32e-14, "type": "quantitative"}}},
{"data": {"name": "one"}, "mark": {"type": "text", "text": "μ", "fontSize": 78, "fontStyle": "italic"}, "encoding": {"x": {"datum": 6.0143, "type": "quantitative"}, "y": {"datum": 1.968e-14, "type": "quantitative"}}},
{"data": {"name": "one"}, "mark": {"type": "text", "text": "→", "font": "DejaVu Sans", "fontSize": 105, "align": "center", "baseline": "middle"}, "encoding": {"x": {"datum": 6.3294, "type": "quantitative"}, "y": {"datum": 2.998e-14, "type": "quantitative"}}},
{"data": {"name": "one"}, "mark": {"type": "text", "text": "ν", "fontSize": 110, "fontStyle": "italic"}, "encoding": {"x": {"datum": 6.5471, "type": "quantitative"}, "y": {"datum": 2.32e-14, "type": "quantitative"}}},
{"data": {"name": "one"}, "mark": {"type": "text", "text": "μ", "fontSize": 78, "fontStyle": "italic"}, "encoding": {"x": {"datum": 6.6855, "type": "quantitative"}, "y": {"datum": 1.968e-14, "type": "quantitative"}}}
]
}
